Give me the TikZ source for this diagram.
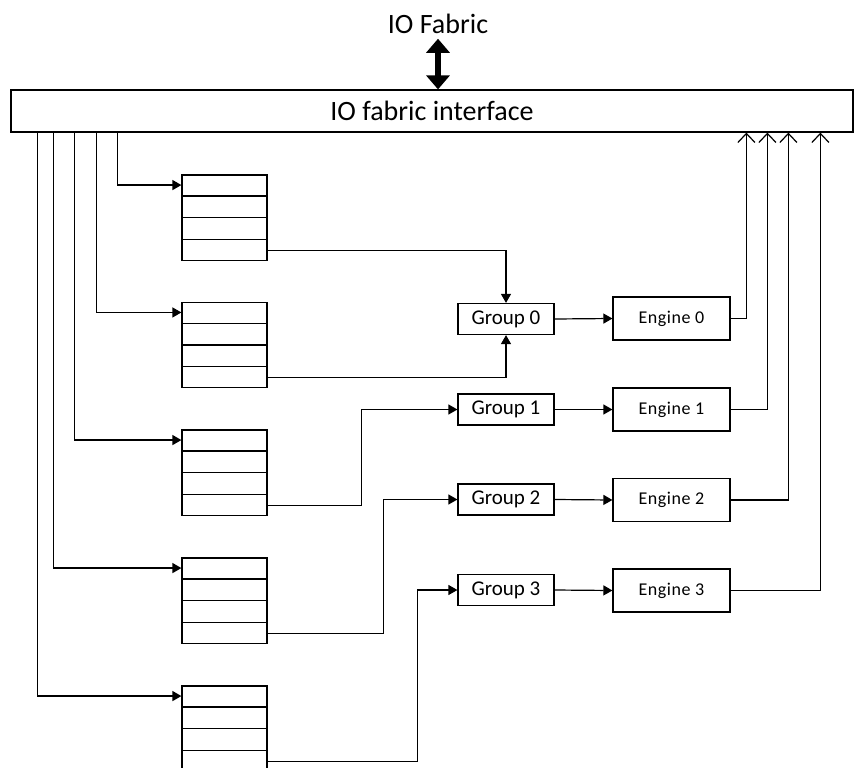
\documentclass[tikz,border=0pt]{standalone}
\usepackage{fontspec}
\setmainfont{Carlito}
\usetikzlibrary{arrows.meta,calc}

\tikzset{
    queue/.style={draw, minimum width=85pt, minimum height=85.3pt, inner sep=0pt},
    groupbox/.style={draw, minimum width=96pt, minimum height=31pt, inner sep=0pt, font=\fontsize{21}{24}\selectfont},
    enginebox/.style={draw, minimum width=117pt, minimum height=43pt, inner sep=0pt, font=\fontsize{18}{21}\selectfont\addfontfeature{LetterSpace=3}},
    feed/.style={-{Triangle[length=9pt,width=10pt]}},
    back/.style={-{Straight Barb[length=9pt,width=17pt]}},
    io/.style={{Triangle[length=14pt,width=23pt]}-{Triangle[length=14pt,width=23pt]}, line width=6pt},
}

\begin{document}
\begin{tikzpicture}[x=1pt, y=-1pt, line width=1.2pt]
    \useasboundingbox (0,0) rectangle (854,768);
    % Fabric and interface
    \node (fab) at (438,24) {\fontsize{28}{32}\selectfont IO Fabric};
    \node[draw, minimum width=842pt, minimum height=42pt, inner sep=0pt] (iface) at (432,111) {\fontsize{28}{32}\selectfont IO fabric interface};
    \draw[io] ($(fab.south)+(0,1)$) -- (fab.south |- iface.north);
    % Queues
    \node[queue] (q0) at (224.5,217.6) {};
    \node[queue] (q1) at (224.5,345.0) {};
    \node[queue] (q2) at (224.5,472.6) {};
    \node[queue] (q3) at (224.5,600.6) {};
    \node[queue] (q4) at (224.5,728.6) {};
    \foreach \q in {q0,q1,q2,q3,q4}
        \foreach \k in {1,2,3}
            \draw ($(\q.north west)!\k/4!(\q.south west)$) -- ($(\q.north east)!\k/4!(\q.south east)$);
    % Groups and engines
    \node[groupbox] (g0) at (506,319) {Group 0};
    \node[groupbox] (g1) at (506,409.5) {Group 1};
    \node[groupbox] (g2) at (506,499.5) {Group 2};
    \node[groupbox] (g3) at (506,590) {Group 3};
    \node[enginebox] (e0) at (671.5,318.5) {Engine 0};
    \node[enginebox] (e1) at (671.5,409.5) {Engine 1};
    \node[enginebox] (e2) at (671.5,500) {Engine 2};
    \node[enginebox] (e3) at (671.5,590.5) {Engine 3};
    % Interface to queues
    \draw[feed] ($(iface.south west)+(107,0)$) |- ($(q0.north west)+(0,10.7)$);
    \draw[feed] ($(iface.south west)+(86,0)$) |- ($(q1.north west)+(0,10.7)$);
    \draw[feed] ($(iface.south west)+(64,0)$) |- ($(q2.north west)+(0,10.7)$);
    \draw[feed] ($(iface.south west)+(43,0)$) |- ($(q3.north west)+(0,10.7)$);
    \draw[feed] ($(iface.south west)+(27,0)$) |- ($(q4.north west)+(0,10.7)$);
    % Queues to groups
    \draw[feed] ($(q0.south east)+(0,-10.7)$) -| (g0.north);
    \draw[feed] ($(q1.south east)+(0,-10.7)$) -| (g0.south);
    \draw[feed] ($(q2.south east)+(0,-10.7)$) -- ++(94,0) |- (g1.west);
    \draw[feed] ($(q3.south east)+(0,-10.7)$) -- ++(116,0) |- (g2.west);
    \draw[feed] ($(q4.south east)+(0,-10.7)$) -- ++(150,0) |- (g3.west);
    % Groups to engines
    \draw[feed] (g0.east) -- (e0.west);
    \draw[feed] (g1.east) -- (e1.west);
    \draw[feed] (g2.east) -- (e2.west);
    \draw[feed] (g3.east) -- (e3.west);
    % Engines back to interface
    \draw[back] (e0.east) -| ($(iface.south west)+(736,0)$);
    \draw[back] (e1.east) -| ($(iface.south west)+(757,0)$);
    \draw[back] (e2.east) -| ($(iface.south west)+(778,0)$);
    \draw[back] (e3.east) -| ($(iface.south west)+(810,0)$);
\end{tikzpicture}
\end{document}
